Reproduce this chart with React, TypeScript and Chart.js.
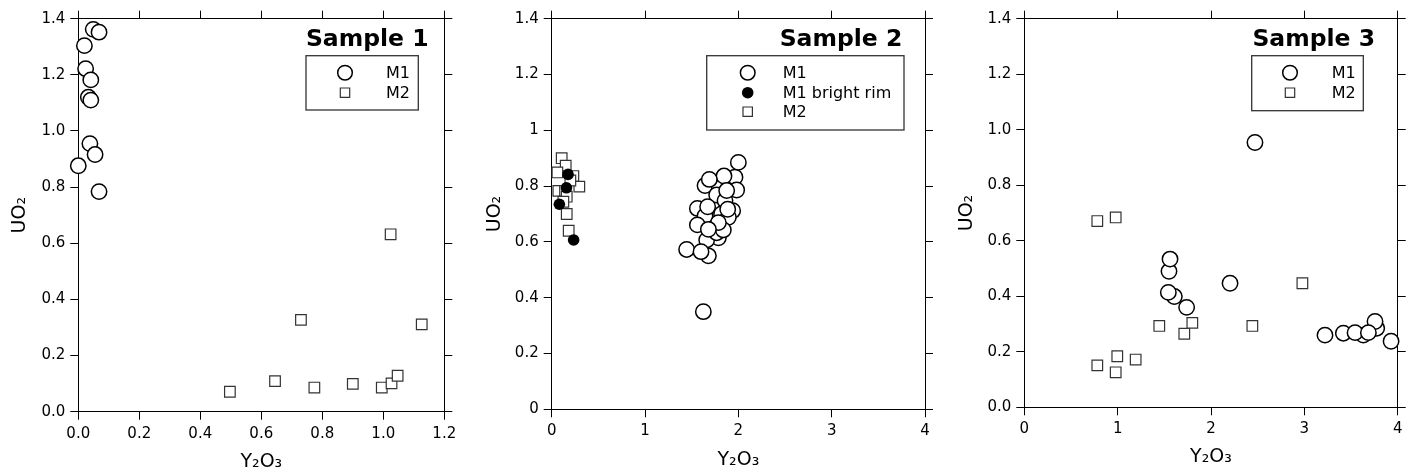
import React, { useEffect, useRef } from "react";
import { Chart, registerables } from "chart.js";
Chart.register(...registerables);

const FONT = "'DejaVu Sans', 'Liberation Sans', sans-serif";

// ---------- Sample 1 ----------
const s1M1X = [0.049, 0.068, 0.020, 0.024, 0.041, 0.033, 0.041, 0.038, 0.055, 0.000, 0.068];
const s1M1Y = [1.362, 1.352, 1.304, 1.222, 1.182, 1.120, 1.110, 0.955, 0.916, 0.876, 0.784];
const s1M2X = [0.497, 0.645, 0.730, 0.774, 0.900, 0.995, 1.027, 1.047, 1.024, 1.126];
const s1M2Y = [0.071, 0.109, 0.327, 0.086, 0.099, 0.086, 0.101, 0.128, 0.632, 0.311];

// ---------- Sample 2 ----------
const s2M1X = [1.964, 1.643, 1.982, 1.796, 1.768, 1.857, 1.820, 1.939, 1.561, 1.643, 1.893, 1.561, 1.786, 1.661, 1.768, 1.839, 1.786, 1.679,
  2.000, 1.846, 1.689, 1.875, 1.671, 1.886, 1.679, 1.446, 1.600, 1.625];
const s2M1Y = [0.832, 0.802, 0.786, 0.792, 0.768, 0.748, 0.700, 0.712, 0.720, 0.693, 0.688, 0.661, 0.615, 0.607, 0.633, 0.643, 0.669, 0.550,
  0.885, 0.836, 0.824, 0.784, 0.726, 0.717, 0.645, 0.573, 0.565, 0.350];
const s2RimX = [0.175, 0.158, 0.082, 0.235];
const s2RimY = [0.842, 0.794, 0.735, 0.607];
const s2M2X = [0.107, 0.150, 0.061, 0.232, 0.296, 0.071, 0.143, 0.161, 0.125, 0.161, 0.182, 0.200];
const s2M2Y = [0.900, 0.873, 0.849, 0.836, 0.798, 0.783, 0.783, 0.762, 0.744, 0.700, 0.640, 0.820];

// ---------- Sample 3 ----------
const s3M1X = [2.471, 1.550, 1.561, 2.204, 1.607, 1.543, 1.739, 3.221, 3.418, 3.632, 3.543, 3.775, 3.757, 3.686, 3.929];
const s3M1Y = [0.954, 0.490, 0.534, 0.447, 0.399, 0.414, 0.360, 0.260, 0.267, 0.260, 0.269, 0.285, 0.309, 0.269, 0.238];
const s3M2X = [0.782, 0.979, 0.782, 0.979, 0.996, 1.193, 1.446, 1.714, 1.800, 2.443, 2.979];
const s3M2Y = [0.671, 0.684, 0.151, 0.126, 0.184, 0.172, 0.293, 0.265, 0.304, 0.293, 0.447];

const titles = ["Sample 1", "Sample 2", "Sample 3"];
const xTitle = "Y\u2082O\u2083";
const yTitle = "UO\u2082";

type Kind = "open" | "filled" | "square";
type Series = { label: string; x: number[]; y: number[]; kind: Kind };

const panelSeries: Series[][] = [
  [
    { label: "M1", x: s1M1X, y: s1M1Y, kind: "open" },
    { label: "M2", x: s1M2X, y: s1M2Y, kind: "square" },
  ],
  [
    { label: "M1", x: s2M1X, y: s2M1Y, kind: "open" },
    { label: "M1 bright rim", x: s2RimX, y: s2RimY, kind: "filled" },
    { label: "M2", x: s2M2X, y: s2M2Y, kind: "square" },
  ],
  [
    { label: "M1", x: s3M1X, y: s3M1Y, kind: "open" },
    { label: "M2", x: s3M2X, y: s3M2Y, kind: "square" },
  ],
];

// layout of each panel (canvas-local pixels)
const layouts = [
  { left: 0, xMax: 1.2, xStep: 0.2, xDec: 1, yFmt: "fixed", yW: 78.3, y2W: 28.7, x2H: 18.7, xH: 63.3, ytPad: 8.6, xtPad: 1.9,
    box: [306, 55.7, 418.3, 110], mx: 345, tx: 386, rows: [72.7, 92.7], titleRight: 428.5, titleBase: 46 },
  { left: 473, xMax: 4, xStep: 1, xDec: 0, yFmt: "short", yW: 78.7, y2W: 21, x2H: 18.7, xH: 65.7, ytPad: 10.6, xtPad: 3.6,
    box: [233.7, 55.7, 431, 130], mx: 274.7, tx: 309.7, rows: [72.7, 92.7, 111.7], titleRight: 429.3, titleBase: 46 },
  { left: 946, xMax: 4, xStep: 1, xDec: 0, yFmt: "fixed", yW: 78.3, y2W: 21.3, x2H: 18.7, xH: 67.7, ytPad: 9.3, xtPad: 6.9,
    box: [305.7, 55.7, 417.3, 110.7], mx: 344, tx: 385.7, rows: [72.7, 92.7], titleRight: 429, titleBase: 46 },
];

function drawMarker(ctx: CanvasRenderingContext2D, kind: Kind, x: number, y: number) {
  ctx.beginPath();
  if (kind === "open") {
    ctx.arc(x, y, 7.3, 0, Math.PI * 2);
    ctx.fillStyle = "#fff";
    ctx.fill();
    ctx.lineWidth = 1.5;
    ctx.strokeStyle = "#000";
    ctx.stroke();
  } else if (kind === "filled") {
    ctx.arc(x, y, 5.8, 0, Math.PI * 2);
    ctx.fillStyle = "#000";
    ctx.fill();
  } else {
    ctx.rect(x - 4.7, y - 4.7, 9.4, 9.4);
    ctx.fillStyle = "#fff";
    ctx.fill();
    ctx.lineWidth = 1.2;
    ctx.strokeStyle = "#333";
    ctx.stroke();
  }
}

const decoPlugin = {
  id: "deco",
  afterDatasetsDraw(chart: any, _args: any, opts: any) {
    const ctx: CanvasRenderingContext2D = chart.ctx;
    const L = opts.layout;
    ctx.save();
    ctx.font = `bold 23.5px ${FONT}`;
    ctx.fillStyle = "#000";
    ctx.textAlign = "right";
    ctx.textBaseline = "alphabetic";
    ctx.fillText(opts.title, L.titleRight, L.titleBase);
    const [bx0, by0, bx1, by1] = L.box;
    ctx.lineWidth = 1.3;
    ctx.strokeStyle = "#333";
    ctx.strokeRect(bx0, by0, bx1 - bx0, by1 - by0);
    const series: Series[] = opts.series;
    series.forEach((s, i) => {
      const y = L.rows[i];
      drawMarker(ctx, s.kind, L.mx, y);
      ctx.font = `16px ${FONT}`;
      ctx.fillStyle = "#000";
      ctx.textAlign = "left";
      ctx.textBaseline = "middle";
      ctx.fillText(s.label, L.tx, y + 1);
    });
    ctx.restore();
  },
};

function axis(pos: string, max: number, step: number, showLabels: boolean, fmt: (v: number) => string, size: number, title?: any) {
  const horizontal = pos === "top" || pos === "bottom";
  return {
    type: "linear",
    position: pos,
    min: 0,
    max,
    ticks: {
      display: showLabels,
      stepSize: step,
      color: "#000",
      font: { family: FONT, size: 15 },
      padding: 5,
      autoSkip: false,
      maxRotation: 0,
      callback: (v: any) => fmt(Number(v)),
    },
    grid: { drawOnChartArea: false, drawTicks: true, tickLength: 8, color: "#000", lineWidth: 1 },
    border: { display: true, color: "#000", width: 1 },
    title: title || { display: false },
    afterFit: (s: any) => {
      if (horizontal) s.height = size;
      else s.width = size;
    },
  };
}

function Panel({ idx }: { idx: number }) {
  const ref = useRef<HTMLCanvasElement>(null);
  const L = layouts[idx];
  useEffect(() => {
    const series = panelSeries[idx];
    const datasets = series.map((s) => ({
      label: s.label,
      data: s.x.map((x, i) => ({ x, y: s.y[i] })),
      pointStyle: s.kind === "square" ? "rect" : "circle",
      pointRadius: s.kind === "square" ? 7.5 : s.kind === "filled" ? 5.8 : 7.7,
      pointHoverRadius: s.kind === "square" ? 7.5 : s.kind === "filled" ? 5.8 : 7.7,
      pointBackgroundColor: s.kind === "filled" ? "#000" : "#fff",
      pointBorderColor: s.kind === "square" ? "#333" : "#000",
      pointBorderWidth: s.kind === "square" ? 1.2 : s.kind === "filled" ? 0 : 1.5,
      showLine: false,
      clip: false,
      xAxisID: "x",
      yAxisID: "y",
    }));
    const xFmt = (v: number) => v.toFixed(L.xDec);
    const yFmt = L.yFmt === "fixed" ? (v: number) => v.toFixed(1) : (v: number) => String(Number(v.toFixed(1)));
    const titleFont = { family: FONT, size: 19 };
    const chart = new Chart(ref.current as HTMLCanvasElement, {
      type: "scatter",
      data: { datasets } as any,
      options: {
        responsive: false,
        animation: false,
        devicePixelRatio: 1,
        layout: { padding: 0 },
        plugins: {
          legend: { display: false },
          tooltip: { enabled: false },
          deco: { layout: L, series, title: titles[idx] },
        } as any,
        scales: {
          x: axis("bottom", L.xMax, L.xStep, true, xFmt, L.xH, {
            display: true, text: xTitle, color: "#000", font: titleFont, padding: { top: 0, bottom: L.xtPad },
          }),
          x2: axis("top", L.xMax, L.xStep, false, xFmt, L.x2H),
          y: axis("left", 1.4, 0.2, true, yFmt, L.yW, {
            display: true, text: yTitle, color: "#000", font: titleFont, padding: { top: L.ytPad, bottom: 0 },
          }),
          y2: axis("right", 1.4, 0.2, false, yFmt, L.y2W),
        } as any,
      },
      plugins: [decoPlugin as any],
    });
    return () => chart.destroy();
  }, [idx]);
  return (
    <canvas
      ref={ref}
      width={473}
      height={475}
      style={{ position: "absolute", left: L.left, top: 0, width: 473, height: 475 }}
    />
  );
}

export default function App() {
  return (
    <div style={{ position: "absolute", left: 0, top: 0, width: 1419, height: 475, background: "#fff" }}>
      <Panel idx={0} />
      <Panel idx={1} />
      <Panel idx={2} />
    </div>
  );
}
